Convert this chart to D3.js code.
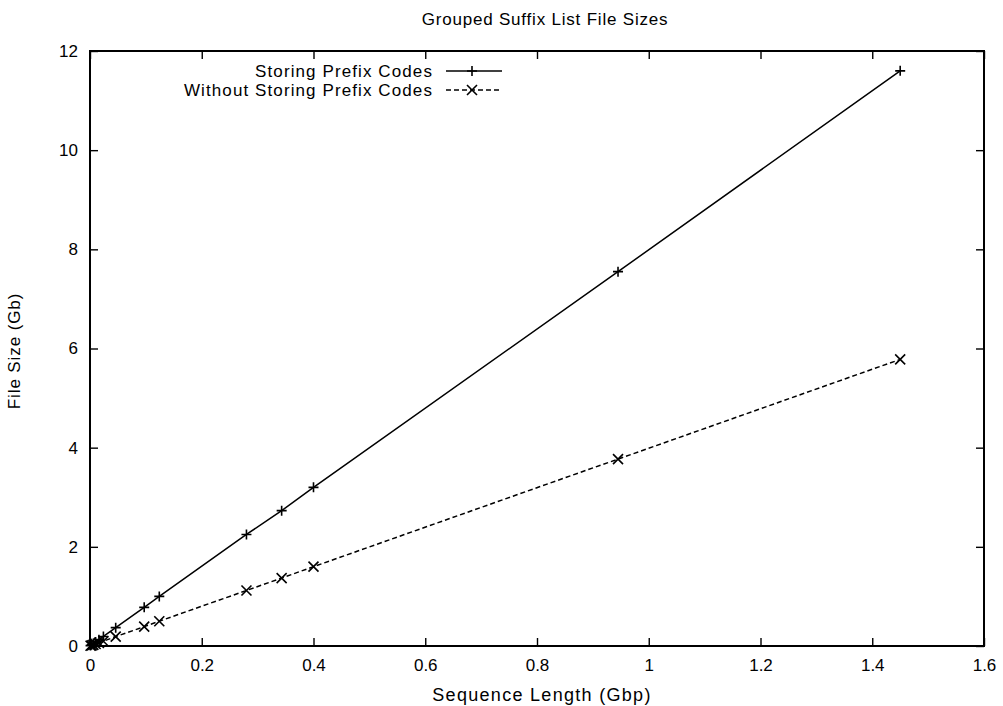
<!DOCTYPE html>
<html>
<head>
<meta charset="utf-8">
<script src="https://cdn.jsdelivr.net/npm/d3@7"></script>
<style>
  body { margin: 0; background: #fff; }
  text { font-family: "Liberation Sans", Arial, sans-serif; fill: #000; }
</style>
</head>
<body>
<script>
var w = 1003;
var h = 706;

// data
var seqLength = [0.001, 0.003, 0.006, 0.010, 0.016, 0.024, 0.046, 0.097, 0.124, 0.280, 0.343, 0.400, 0.945, 1.450];
var withPrefix = [0.008, 0.024, 0.048, 0.080, 0.128, 0.192, 0.37, 0.78, 1.00, 2.25, 2.73, 3.20, 7.55, 11.60];
var withoutPrefix = [0.004, 0.012, 0.024, 0.040, 0.064, 0.096, 0.19, 0.39, 0.50, 1.12, 1.37, 1.60, 3.77, 5.78];
var xTicks = [0, 0.2, 0.4, 0.6, 0.8, 1, 1.2, 1.4, 1.6];
var yTicks = [0, 2, 4, 6, 8, 10, 12];
var seriesNames = ["Storing Prefix Codes", "Without Storing Prefix Codes"];

// plot box (note: "top" is a reserved window prop)
var pLeft = 90, pRight = 984, pTop = 51, pBottom = 646;

var x = d3.scaleLinear().domain([0, 1.6]).range([pLeft, pRight]);
var y = d3.scaleLinear().domain([0, 12]).range([pBottom, pTop]);

var svg = d3.select("body")
    .append("svg")
    .attr("width", w)
    .attr("height", h);

// title
svg.append("text")
    .attr("x", 545)
    .attr("y", 25)
    .attr("text-anchor", "middle")
    .style("font-size", "17px")
    .style("letter-spacing", "0.8px")
    .text("Grouped Suffix List File Sizes");

// ticks, inward and mirrored (gnuplot style)
var tl = 8;
var fmt = function(d) { return String(d); };

var xAxisB = d3.axisBottom(x).tickValues(xTicks).tickSize(-tl).tickPadding(13).tickFormat(fmt);
var xAxisT = d3.axisTop(x).tickValues(xTicks).tickSize(-tl).tickFormat("");
var yAxisL = d3.axisLeft(y).tickValues(yTicks).tickSize(-tl).tickPadding(12).tickFormat(fmt);
var yAxisR = d3.axisRight(y).tickValues(yTicks).tickSize(-tl).tickFormat("");

function styleAxis(g) {
    g.select(".domain").remove();
    g.selectAll(".tick line").attr("stroke", "#000").attr("stroke-width", 1.4);
    g.selectAll(".tick text").style("font-size", "17px").style("font-family", "Liberation Sans, Arial, sans-serif").attr("fill", "#000");
}

svg.append("g").attr("transform", "translate(0," + pBottom + ")").call(xAxisB).call(styleAxis);
svg.append("g").attr("transform", "translate(0," + pTop + ")").call(xAxisT).call(styleAxis);
svg.append("g").attr("transform", "translate(" + pLeft + ",0)").call(yAxisL).call(styleAxis);
svg.append("g").attr("transform", "translate(" + pRight + ",0)").call(yAxisR).call(styleAxis);

// frame
svg.append("rect")
    .attr("x", pLeft).attr("y", pTop)
    .attr("width", pRight - pLeft).attr("height", pBottom - pTop)
    .attr("fill", "none").attr("stroke", "#000").attr("stroke-width", 2);

// axis labels
svg.append("text")
    .attr("x", 542)
    .attr("y", 701)
    .attr("text-anchor", "middle")
    .style("font-size", "18px")
    .style("letter-spacing", "1.3px")
    .text("Sequence Length (Gbp)");

svg.append("text")
    .attr("transform", "translate(20,351) rotate(-90)")
    .attr("text-anchor", "middle")
    .style("font-size", "17px")
    .style("letter-spacing", "0.9px")
    .text("File Size (Gb)");

var pts1 = seqLength.map(function(d, i) { return [d, withPrefix[i]]; });
var pts2 = seqLength.map(function(d, i) { return [d, withoutPrefix[i]]; });

var lineFun = d3.line()
    .x(function(d) { return x(d[0]); })
    .y(function(d) { return y(d[1]); })
    .curve(d3.curveLinear);

svg.append("path")
    .attr("d", lineFun(pts1))
    .attr("stroke", "#000").attr("stroke-width", 1.5).attr("fill", "none");

svg.append("path")
    .attr("d", lineFun(pts2))
    .attr("stroke", "#000").attr("stroke-width", 1.5).attr("fill", "none")
    .attr("stroke-dasharray", "5,3");

var m = 5;
function plus(sel) {
    sel.append("path")
        .attr("d", "M" + (-m) + ",0H" + m + "M0," + (-m) + "V" + m)
        .attr("stroke", "#000").attr("stroke-width", 1.6).attr("fill", "none");
}
function cross(sel) {
    sel.append("path")
        .attr("d", "M" + (-m) + "," + (-m) + "L" + m + "," + m + "M" + (-m) + "," + m + "L" + m + "," + (-m))
        .attr("stroke", "#000").attr("stroke-width", 1.6).attr("fill", "none");
}

svg.selectAll("g.p1").data(pts1).enter().append("g")
    .attr("class", "p1")
    .attr("transform", function(d) { return "translate(" + x(d[0]) + "," + y(d[1]) + ")"; })
    .call(plus);

svg.selectAll("g.p2").data(pts2).enter().append("g")
    .attr("class", "p2")
    .attr("transform", function(d) { return "translate(" + x(d[0]) + "," + y(d[1]) + ")"; })
    .call(cross);

// legend
var legY = [71, 90];
var leg = svg.append("g");
seriesNames.forEach(function(name, i) {
    leg.append("text")
        .attr("x", 433).attr("y", legY[i] + 6)
        .attr("text-anchor", "end")
        .style("font-size", "17px")
        .style("letter-spacing", "1.1px")
        .text(name);
    var ln = leg.append("line")
        .attr("x1", 446).attr("x2", 502)
        .attr("y1", legY[i]).attr("y2", legY[i])
        .attr("stroke", "#000").attr("stroke-width", 1.5);
    if (i == 1) ln.attr("stroke-dasharray", "5,3");
    var mk = leg.append("g").attr("transform", "translate(472," + legY[i] + ")");
    if (i == 0) plus(mk); else cross(mk);
});
</script>
</body>
</html>
